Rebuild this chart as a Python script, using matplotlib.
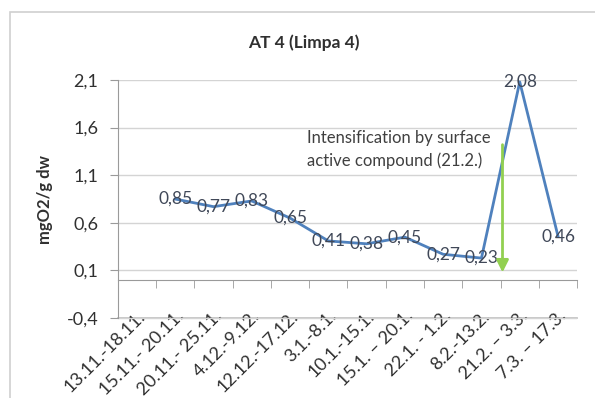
import matplotlib
matplotlib.use("Agg")
import matplotlib.pyplot as plt
import numpy as np
from matplotlib.patches import Rectangle
from matplotlib.ticker import FuncFormatter

plt.rcParams["font.family"] = ["Lato", "DejaVu Sans"]

periods = ["13.11.-18.11.", "15.11.- 20.11.", "20.11.- 25.11.", "4.12.-9.12.",
           "12.12.-17.12.", "3.1.-8.1.", "10.1.-15.1.", "15.1. \u2013 20.1.",
           "22.1. - 1.2.", "8.2.-13.2.", "21.2. \u2013 3.3.", "7.3. \u2013 17.3."]
cod = [np.nan, 0.85, 0.77, 0.83, 0.65, 0.41, 0.38, 0.45, 0.27, 0.23, 2.08, 0.46]
y_ticks = [-0.4, 0.1, 0.6, 1.1, 1.6, 2.1]
arrow_x = 9.55
arrow_top, arrow_bottom = 1.45, 0.05
note = "Intensification by surface\nactive compound (21.2.)"

fig = plt.figure(figsize=(5.95, 3.98), dpi=100)
ax = fig.add_axes([0.198, 0.196, 0.772, 0.603])

# chart frame
fig.patches.append(Rectangle((10 / 595, -0.01), 1.0, 1 - 12 / 398 + 0.01, transform=fig.transFigure,
                             fill=False, edgecolor="#d0d0d0", linewidth=1.2))

x = np.arange(len(periods))
ax.plot(x, cod, color="#4F81BD", linewidth=2, zorder=3)
for xi, v in zip(x, cod):
    if np.isnan(v):
        continue
    ax.text(xi, v, f"{v:.2f}".replace(".", ","), ha="center", va="center",
            fontsize=12.5, color="#404858", zorder=4)

ax.annotate("", xy=(arrow_x, arrow_bottom), xytext=(arrow_x, arrow_top),
            arrowprops=dict(arrowstyle="-|>", color="#92D050", lw=2, mutation_scale=18), zorder=5)
ax.text(4.45, 1.37, note, fontsize=12, color="#404040", va="center", ha="left", linespacing=1.45)

ax.set_xlim(-0.5, len(periods) - 0.5)
ax.set_ylim(-0.42, 2.1)
ax.set_yticks(y_ticks)
ax.yaxis.set_major_formatter(FuncFormatter(lambda v, _: f"{v:.1f}".replace(".", ",")))
ax.grid(axis="y", color="#d4d4d4", linewidth=1)
ax.set_axisbelow(True)
# lowest gridline drawn on its own, under the tick labels
ax.axhline(y_ticks[0], color="#bdbdbd", linewidth=1.2, zorder=0.4, clip_on=False)

ax.spines["bottom"].set_position(("data", 0))
ax.spines["bottom"].set_color("#9a9a9a")
ax.spines["left"].set_color("#9a9a9a")
ax.spines["left"].set_bounds(-0.4, 2.1)
ax.spines["top"].set_visible(False)
ax.spines["right"].set_visible(False)

ax.set_xticks(x)
ax.set_xticklabels(periods, rotation=45, ha="right", rotation_mode="anchor", fontsize=13, color="#303030")
ax.set_xticks(np.arange(len(periods) + 1) - 0.5, minor=True)
ax.tick_params(axis="x", which="major", length=0, pad=20)
ax.tick_params(axis="x", which="minor", length=6, color="#9a9a9a", direction="out")
ax.tick_params(axis="y", length=6, color="#9a9a9a", labelsize=13, labelcolor="#303030", pad=8)

ax.set_ylabel("mgO2/g dw", fontsize=12, fontweight="bold", color="#303030", labelpad=10)
fig.text(304 / 595, 1 - 43 / 398, "AT 4 (Limpa 4)", fontsize=12.5, fontweight="bold",
         color="#303030", ha="center", va="center")

fig.savefig("out.png", dpi=100)
